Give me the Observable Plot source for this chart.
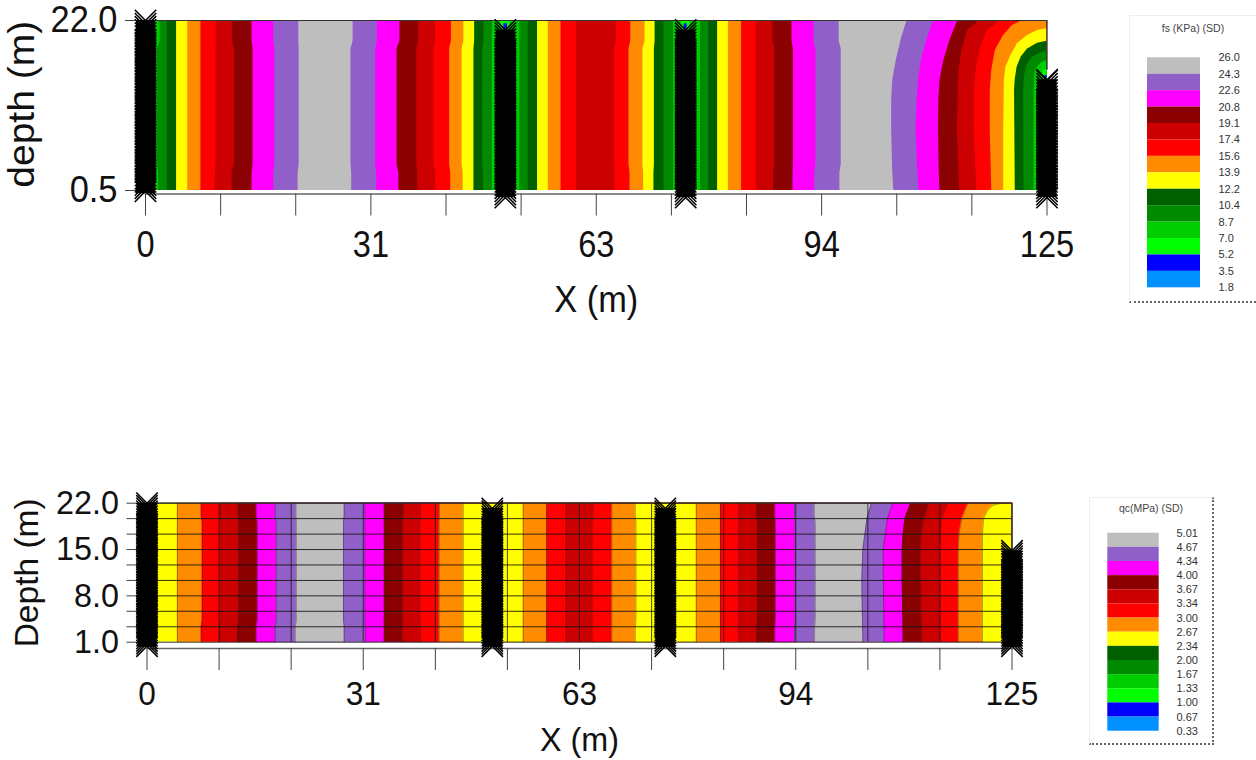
<!DOCTYPE html>
<html><head><meta charset="utf-8">
<script src="https://cdn.jsdelivr.net/npm/d3@7"></script>
<script src="https://cdn.jsdelivr.net/npm/@observablehq/plot@0.6"></script>
<style>
html,body{margin:0;padding:0;background:#fff;width:1256px;height:760px;overflow:hidden;font-family:"Liberation Sans",Arial,sans-serif}
#page{position:relative;width:1256px;height:760px}
.chart{position:absolute;left:0}
.chart svg{display:block;overflow:visible;background:transparent;max-width:none}
.legend{position:absolute;box-sizing:border-box;background:#fff;border-top:1px solid #eee;border-left:1px solid #eee;border-right:2px dotted #666;border-bottom:2px dotted #666}
.legend .ttl{position:absolute;left:0;right:0;text-align:center;font-size:10.5px;color:#444}
.legend svg{display:block;position:absolute;left:0;top:0;background:transparent;max-width:none;overflow:visible}
</style></head><body><div id="page"></div>
<script>
// ---------- shared legend classes ----------
const bandIds = [0,1,2,3,4,5,6,7,8,9,10,11,12,13];
const bandColors = ["#bebebe","#9060c8","#ff00ff","#8b0000","#cc0000","#ff0000","#ff8c00","#ffff00","#006000","#008a00","#00cc00","#00ff00","#0000ff","#0090ff"];
const fsLegendLabels = ["26.0","24.3","22.6","20.8","19.1","17.4","15.6","13.9","12.2","10.4","8.7","7.0","5.2","3.5","1.8"];
const qcLegendLabels = ["5.01","4.67","4.34","4.00","3.67","3.34","3.00","2.67","2.34","2.00","1.67","1.33","1.00","0.67","0.33"];

// ---------- axes ----------
const xTicks = [0,10.42,20.83,31.25,41.67,52.08,62.5,72.92,83.33,93.75,104.17,114.58,125];
const xLabelled = [0,31.25,62.5,93.75,125];
const fsDepthTicks = [22,0.5];
const qcDepthTicks = [22,19.67,17.33,15,12.67,10.33,8,5.67,3.33,1];
const qcDepthLabelled = [22,15,8,1];

// ---------- soundings (x, first and last marker depth) ----------
const soundingDepths = [22,21.6,21.2,20.8,20.4,20,19.6,19.2,18.8,18.4,18,17.6,17.2,16.8,16.4,16,15.6,15.2,14.8,14.4,14,13.6,13.2,12.8,12.4,12,11.6,11.2,10.8,10.4,10,9.6,9.2,8.8,8.4,8,7.6,7.2,6.8,6.4,6,5.6,5.2,4.8,4.4,4,3.6,3.2,2.8,2.4,2,1.6,1.2,0.8,0.4,0,-0.4];
const soundingX = [0,49.9,74.9,125];
const fsSoundingTop = [22,20.8,20.8,14.5];
const fsSoundingEnd = [0.1,-0.4,-0.4,-0.4];
const qcSoundingTop = [22,21.2,21.2,14.8];
const qcSoundingEnd = [0.2,0.2,0.2,0.2];

// ---------- fs contours: band that starts at each contour, x along the contour, depth along the contour ----------
const FS_ROWS = [22,19.4,18.4,3.8,2.7,0.5];
const DA = [22,19.47,16.94,14.41,11.88,8.09,3.03,0.5];
const DB = [22,20.74,18.2,15.68,13.15,8.09,3.03,0.5];
const fsBand = [10,9,8,7,6,5,4,3,2,1,0,1,2,3,4,5,6,7,8,9,10,11,12,11,10,9,8,7,6,5,4,5,6,7,8,9,10,11,12,11,10,9,8,7,6,5,4,3,2,1,0,1,2,3,4,5,6,7,8,9,10,11,12];
const fsX = [[0,0,0],[2.03,1.7,1.83],[3.02,3.02,3.02],[4.31,4.31,4.31],[5.85,5.85,5.85],[7.68,7.68,7.68],[9.81,9.76,9.66],[12.09,12.34,12],[14.77,14.91,14.77],[17.79,17.94,17.79],[21.26,21.31,21.16],[28.79,28.49,28.59],[32.16,31.91,32.06],[35.28,34.88,35.13],[37.86,37.61,37.76],[40.24,39.99,40.24],[42.42,42.17,42.32],[44.15,43.9,44.05],[45.64,45.54,45.54],[46.93,46.78,46.88],[48.1,48.1,48.1],[49.3,49.3,49.3],[49.7,49.7],[50.2,50.2,50.2],[50.5,50.5,50.5],[51.9,51.9,51.9],[53.07,53.07,53.07],[54.36,54.36,54.36],[55.85,55.85,55.85],[57.62,57.62,57.62],[59.76,59.76,59.76],[65.3,65.06,65.1],[67.29,67.04,67.19],[69.27,68.97,69.07],[70.66,70.56,70.5],[71.9,71.9,71.9],[73.23,73.23,73.23],[74.3,74.3,74.3],[74.7,74.7],[75.1,75.1,75.1],[75.5,75.5,75.5],[76.95,76.95,76.95],[78.09,78.09,78.09],[79.33,79.33,79.33],[80.82,80.82,80.82],[82.65,82.65,82.65],[84.68,84.68,84.68],[87.01,87.26,87.1],[89.64,89.83,89.78],[92.71,92.96,92.81],[96.18,96.47,96.28],
 [105.59,104.75,104.1,103.6,103.46,103.46,103.6,103.76],[109.3,108.3,107.58,107.18,106.98,106.84,107.08,107.23],[112.63,111.54,110.7,110.15,110,109.96,110.05,110.15],[115.65,114,113.2,112.8,112.7,112.58,112.8,112.88],[118.6,116.74,115.65,115.16,114.96,114.9,115.16,115.25],[121.6,120.2,118.97,117.83,117.34,117.14,117.14,117.34],[125,123.7,122.3,120.9,120,119.3,119.08,119,119],[125,123.7,122.3,121.4,120.85,120.58,120.5,120.6],[125,124.15,123,122.2,121.87,121.77,121.8],[125,124.15,123.5,123.3,123.2,123.2],[125,124.5,124.3,124.3],[124.7,124.7]];
const fsDepth = fsX.map(xs=> xs.length===3 ? FS_ROWS : null);
fsDepth[22] = [21.6,0.5]; fsDepth[38] = [21.6,0.5];
fsDepth[51] = DA; fsDepth[52] = DA; fsDepth[53] = DA; fsDepth[54] = DB; fsDepth[55] = DB;
fsDepth[56] = [22,21.37,20.1,18.2,15.68,13.15,8.09,0.5];
fsDepth[57] = [20.95,20.74,20.1,19.05,17.57,16.1,14.41,8.09,0.5];
fsDepth[58] = [19.38,19.13,18.4,17.35,16.1,14.41,13.15,0.5];
fsDepth[59] = [18.08,17.9,17.35,16.3,14.83,13.15,0.5];
fsDepth[60] = [16.94,16.6,15.9,15.25,13.15,0.5];
fsDepth[61] = [15.9,15.6,15,0.5];
fsDepth[62] = [15.04,0.5];

// ---------- qc contours ----------
const QC_ROWS = [22,20.1,19.1,4.3,3.3,1];
const QB = [22,19.73,17.37,15,10.3,1];
const qcBand = [7,6,5,4,3,2,1,0,1,2,3,4,5,6,7,6,5,4,5,6,7,6,5,4,3,2,1,0,1,2,3,4,5,6,7];
const qcX = [[0,0,0],[4.39,4.39,4.39],[7.83,7.98,7.83],[10.6,10.72,10.5],[13.21,13.31,13.11],[15.8,15.95,15.8],[18.54,18.69,18.54],[21.53,21.58,21.43],[28.5,28.4,28.5],[31.5,31.5,31.55],[34.29,34.29,34.29],[37.03,36.93,36.88],[39.52,39.47,39.52],[42.26,42.21,42.21],[45.7,45.7,45.7],[54.37,54.37,54.37],[57.76,57.76,57.76],[60.6,60.6,60.6],[64.43,64.33,64.33],[67.17,67.17,67.17],[70.56,70.66,70.56],[79.38,79.38,79.38],[82.87,82.87,82.87],[85.56,85.56,85.56],[88.15,88.25,88.15],[90.74,90.84,90.74],[93.58,93.68,93.58],[96.42,96.57,96.47],
 [104.69,104.05,103.45,103.3,103.45],[107.78,107.03,106.7,106.4,106.4,106.53],[110.37,109.53,109.28,109.13,109.13,109.28],[113,112.27,111.87,111.77,111.77,111.92],[115.75,114.86,114.6,114.5,114.5,114.5],[118.64,117.75,117.35,117.25,117.25,117.25],[123.48,122.2,121.5,120.9,120.74,120.74]];
const qcDepth = qcX.map(xs=> xs.length===3 ? QC_ROWS : QB);
qcDepth[28] = [22,19.73,15,10.3,1];
qcDepth[34] = [22,21.65,20.9,19.73,17.37,1];

// ---------- builders ----------
function contourRows(bands, xs, depths){
  return bands.flatMap((band,id)=>{
    const profile = xs[id].length===3 ? [xs[id][0],xs[id][0],xs[id][1],xs[id][1],xs[id][2],xs[id][2]] : xs[id];
    return profile.map((x,k)=>({id, band, x, end:125, depth:depths[id][k]}));
  });
}
function soundingRows(tops, ends){
  return soundingX.flatMap((x,i)=>{
    const ds = soundingDepths.filter(d=> d<tops[i] && d>=ends[i]);
    return [tops[i],...ds].map(depth=>({x,depth}));
  });
}
const colorOpt = {type:"ordinal", domain:bandIds, range:bandColors};
const font = '"Liberation Sans",Arial,sans-serif';

function section(o){
  const rows = contourRows(o.band,o.xs,o.depths);
  const columns = soundingX.map((x,i)=>({x,top:o.tops[i],end:o.ends[i]}));
  const svg = Plot.plot({
    width:o.width, height:o.height, marginLeft:o.left, marginRight:o.width-o.right,
    marginTop:o.top-6, marginBottom:o.height-o.axisY,
    style:{background:"transparent",fontFamily:font,overflow:"visible"},
    x:{domain:[0,125], range:[o.left,o.right], axis:null},
    y:{domain:o.domain, range:[o.bottom,o.top], axis:null},
    color:colorOpt,
    marks:[
      Plot.areaX(rows,{x1:"x",x2:"end",y:"depth",z:"id",fill:"band",curve:"linear"}),
      o.outlines ? Plot.lineX(rows,{x:"x",y:"depth",z:"id",stroke:"#222",strokeWidth:0.7,strokeOpacity:0.55}) : null,
      o.grid ? Plot.ruleY(o.yTicks,{x1:0,x2:125,stroke:"#111",strokeWidth:1,strokeOpacity:0.85}) : null,
      o.grid ? Plot.ruleX(o.xTicks,{y1:o.domain[1],y2:o.domain[0],stroke:"#111",strokeWidth:1,strokeOpacity:0.75}) : null,
      Plot.frame({anchor:"bottom",stroke:"#666",strokeWidth:1.5}),
      Plot.ruleY([o.domain[1]],{x1:0,x2:125,stroke:"#333",strokeWidth:1.2}),
      Plot.ruleX([125],{y1:o.domain[1],y2:o.rightEdgeEnd,stroke:"#222",strokeWidth:1.2}),
      Plot.axisX({ticks:xTicks,tickSize:22,tickPadding:o.xPad,stroke:"#444",fontSize:o.fs,fill:"#111",
        tickFormat:d=> xLabelled.includes(d) ? String(Math.round(d+0.001)) : "",
        label:"X (m)",labelAnchor:"center",labelArrow:"none",labelOffset:o.xLabelOff}),
      Plot.axisY({ticks:o.yTicks,tickSize:20,tickPadding:8,stroke:"#444",fontSize:o.fs,fill:"#111",
        tickFormat:d=> o.yLabelled.includes(d) ? d.toFixed(1) : "",
        label:o.yLabel,labelAnchor:"center",labelArrow:"none",labelOffset:o.yLabelOff}),
      Plot.ruleX(columns,{x:"x",y1:"top",y2:"end",stroke:"#000",strokeWidth:19}),
      Plot.dot(soundingRows(o.tops,o.ends),{x:"x",y:"depth",symbol:"times",r:9.8,stroke:"#000",strokeWidth:1.5})
    ]
  });
  return svg;
}
function legend(o){
  const wrap = document.createElement("div");
  wrap.className="legend";
  Object.assign(wrap.style,{left:o.l+"px",top:o.t+"px",width:o.w+"px",height:o.h+"px"});
  if(o.noRight) wrap.style.borderRight="none";
  const svg = Plot.plot({
    width:o.w, height:o.h, marginLeft:o.labelX, marginRight:0, marginTop:0, marginBottom:0,
    style:{background:"transparent",fontFamily:font,maxWidth:"none"},
    x:{domain:[0,1],range:[o.swL,o.swR],axis:null},
    y:{domain:[0,14],range:[o.swT,o.swB],axis:null},
    color:colorOpt,
    marks:[
      Plot.rect(bandIds,{x1:()=>0,x2:()=>1,y1:d=>d,y2:d=>d+1,fill:d=>d}),
      Plot.text(o.labels,{y:(d,i)=>i,text:d=>d,frameAnchor:"left",textAnchor:"start",fontSize:o.font,fill:"#333"})
    ]
  });
  wrap.appendChild(svg);
  const t=document.createElement("div");
  t.className="ttl"; t.textContent=o.title; t.style.top=o.titleY+"px";
  wrap.appendChild(t);
  return wrap;
}
const page=document.getElementById("page");
function place(node,top){const d=document.createElement("div");d.className="chart";d.style.top=top+"px";d.appendChild(node);page.appendChild(d);}
// The reference's text is squeezed sideways; keep real text and adjust its advance length.
function fitTexts(svg, tickSqueeze, depthSqueeze, yLabel, yLength){
  svg.querySelectorAll("text").forEach(t=>{
    const len=t.getComputedTextLength();
    if(!len) return;
    const s=t.textContent.trim();
    const target = s===yLabel ? yLength : (s.includes(".")||s==="X (m)") ? len*depthSqueeze : len*tickSqueeze;
    t.setAttribute("textLength",target);
    t.setAttribute("lengthAdjust","spacingAndGlyphs");
  });
}

const fsSvg=section({band:fsBand,xs:fsX,depths:fsDepth,width:1100,height:330,left:145,right:1046.5,top:20,bottom:190,axisY:193.5,
  domain:[0.5,22],yTicks:fsDepthTicks,yLabelled:fsDepthTicks,yLabel:"depth (m)",rightEdgeEnd:15.7,tops:fsSoundingTop,ends:fsSoundingEnd,
  fs:37,xPad:15,xLabelOff:118,yLabelOff:138,xTicks});
place(fsSvg,0); fitTexts(fsSvg,0.88,0.93,"depth (m)",167);
const qcSvg=section({band:qcBand,xs:qcX,depths:qcDepth,width:1100,height:280,left:146.5,right:1011.5,top:22.7,bottom:161.7,axisY:168,
  domain:[1,22],yTicks:qcDepthTicks,yLabelled:qcDepthLabelled,yLabel:"Depth (m)",rightEdgeEnd:14.8,tops:qcSoundingTop,ends:qcSoundingEnd,
  fs:34,xPad:10,xLabelOff:102,yLabelOff:133,xTicks,grid:true,outlines:true});
place(qcSvg,480); fitTexts(qcSvg,0.93,0.95,"Depth (m)",149);

page.appendChild(legend({l:1129,t:15,w:127,h:288,swL:17,swR:70,swT:41.3,swB:271.3,labelX:88,labels:fsLegendLabels,title:"fs (KPa) (SD)",titleY:6,font:11,noRight:true}));
page.appendChild(legend({l:1089,t:497,w:125,h:248,swL:17.3,swR:68.7,swT:34.7,swB:232.7,labelX:86,labels:qcLegendLabels,title:"qc(MPa) (SD)",titleY:4,font:11}));
</script></body></html>
